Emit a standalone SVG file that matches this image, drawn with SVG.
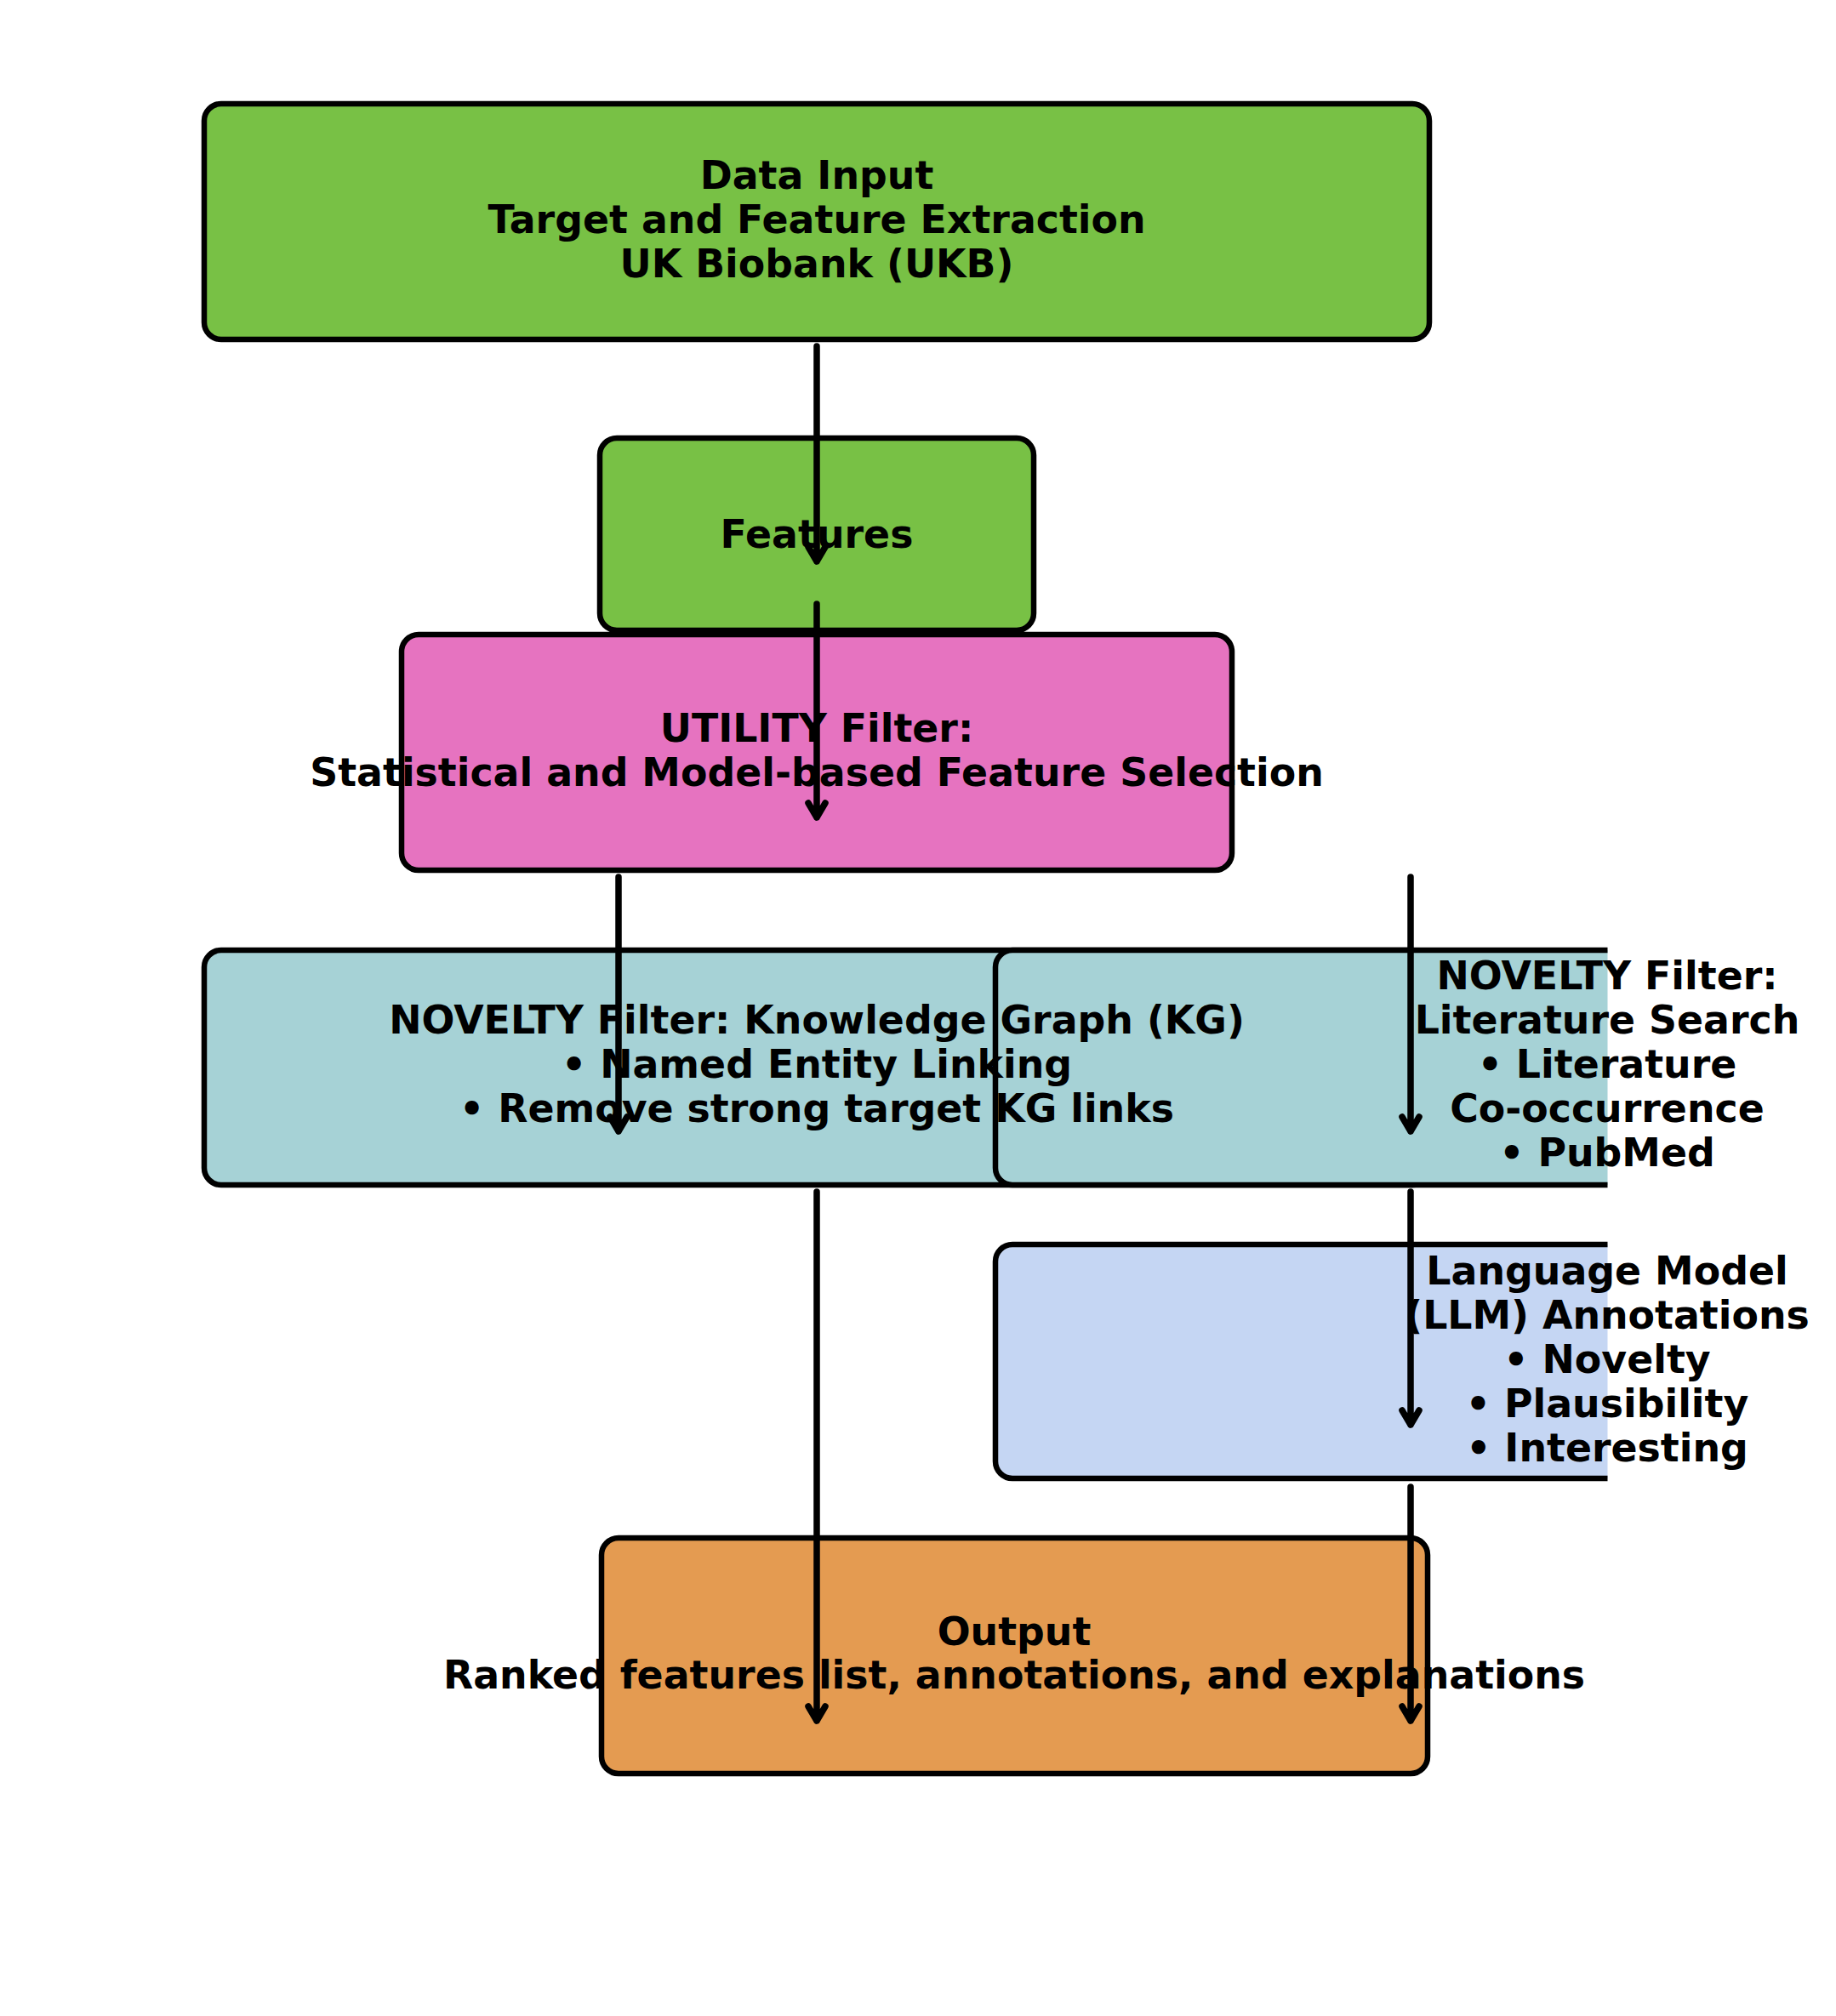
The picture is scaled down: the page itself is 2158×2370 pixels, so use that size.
<svg xmlns="http://www.w3.org/2000/svg" width="2158" height="2370" viewBox="0 0 2158 2370">
<style>
.box{stroke:#000;stroke-width:6.5;}
.t{font-family:"DejaVu Sans",sans-serif;font-weight:bold;font-size:45.8px;fill:#000;text-anchor:middle;}
.ln{stroke:#000;stroke-width:7.5;stroke-linecap:round;stroke-linejoin:round;fill:none;}
</style>
<defs>
<clipPath id="ax"><rect x="0" y="0" width="1889.5" height="2370"/></clipPath>
</defs>
<rect width="2158" height="2370" fill="#fff"/>
<g id="node-data-input"><rect class="box" x="240" y="122" width="1440" height="277" rx="20" fill="#78C145"/></g>
<g id="node-features"><rect class="box" x="705" y="515" width="510" height="226" rx="20" fill="#78C145"/></g>
<g id="node-utility"><rect class="box" x="472" y="746" width="976" height="277" rx="20" fill="#E673C0"/></g>
<g id="node-novelty-kg"><rect class="box" x="240" y="1117" width="1440" height="276" rx="20" fill="#A6D2D6"/></g>
<g id="node-novelty-lit" clip-path="url(#ax)"><rect class="box" x="1170" y="1117" width="1440" height="276" rx="20" fill="#A6D2D6"/></g>
<g id="node-llm" clip-path="url(#ax)"><rect class="box" x="1170" y="1463" width="1440" height="275" rx="20" fill="#C5D6F3"/></g>
<g id="node-output"><rect class="box" x="707" y="1808" width="971" height="277" rx="20" fill="#E49B51"/></g>
<g id="labels">
<text class="t" x="960" y="222"><tspan x="960">Data Input</tspan><tspan x="960" dy="52">Target and Feature Extraction</tspan><tspan x="960" dy="52">UK Biobank (UKB)</tspan></text>
<text class="t" x="960" y="644">Features</text>
<text class="t" x="960" y="872"><tspan x="960">UTILITY Filter:</tspan><tspan x="960" dy="52">Statistical and Model-based Feature Selection</tspan></text>
<text class="t" x="960" y="1215"><tspan x="960">NOVELTY Filter: Knowledge Graph (KG)</tspan><tspan x="960" dy="52">• Named Entity Linking</tspan><tspan x="960" dy="52">• Remove strong target KG links</tspan></text>
<text class="t" x="1889" y="1163"><tspan x="1889">NOVELTY Filter:</tspan><tspan x="1889" dy="52">Literature Search</tspan><tspan x="1889" dy="52">• Literature</tspan><tspan x="1889" dy="52">Co-occurrence</tspan><tspan x="1889" dy="52">• PubMed</tspan></text>
<text class="t" x="1889" y="1510"><tspan x="1889">Language Model</tspan><tspan x="1889" dy="52">(LLM) Annotations</tspan><tspan x="1889" dy="52">• Novelty</tspan><tspan x="1889" dy="52">• Plausibility</tspan><tspan x="1889" dy="52">• Interesting</tspan></text>
<text class="t" x="1192" y="1934"><tspan x="1192">Output</tspan><tspan x="1192" dy="51">Ranked features list, annotations, and explanations</tspan></text>
</g>
<g id="connectors">
<path class="ln" d="M960 407 V660 M950 643 L960 660 L970 643"/>
<path class="ln" d="M960 710 V961 M950 944 L960 961 L970 944"/>
<path class="ln" d="M727 1031 V1330 M717 1313 L727 1330 L737 1313"/>
<path class="ln" d="M1658 1031 V1330 M1648 1313 L1658 1330 L1668 1313"/>
<path class="ln" d="M960 1401 V2023 M950 2006 L960 2023 L970 2006"/>
<path class="ln" d="M1658 1401 V1675 M1648 1658 L1658 1675 L1668 1658"/>
<path class="ln" d="M1658 1748 V2023 M1648 2006 L1658 2023 L1668 2006"/>
</g>
</svg>
